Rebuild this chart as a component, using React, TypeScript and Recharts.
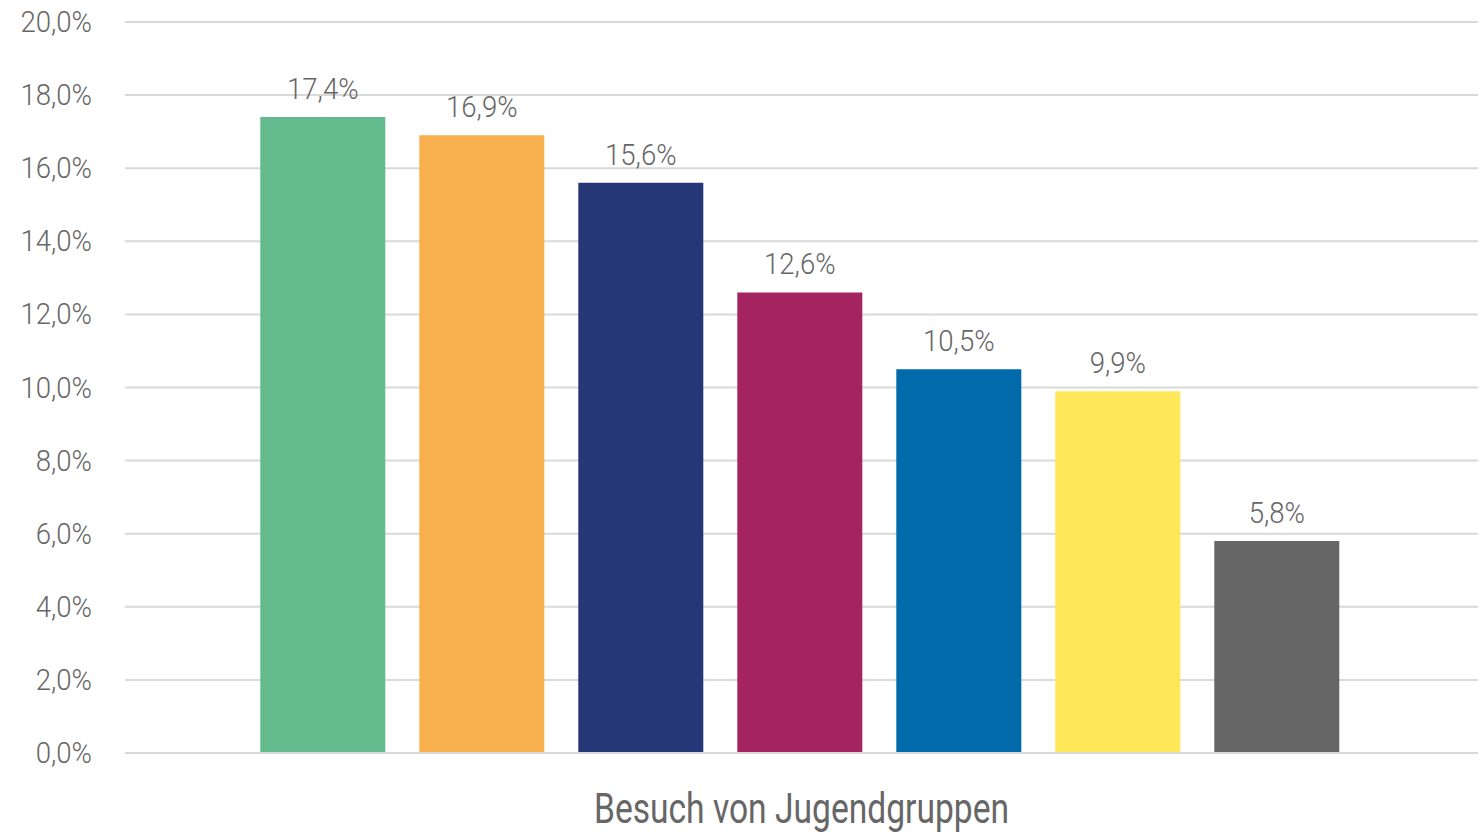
import { BarChart, Bar, XAxis, YAxis, CartesianGrid, LabelList } from 'recharts'

const categories = ['Besuch von Jugendgruppen']
const seriesKeys = ['s1', 's2', 's3', 's4', 's5', 's6', 's7']
const seriesValues = [17.4, 16.9, 15.6, 12.6, 10.5, 9.9, 5.8]
const seriesColors = ['#62BA8D', '#F8AF4E', '#263777', '#A32461', '#006AAB', '#FEE758', '#666666']
const yTicks = [0, 2, 4, 6, 8, 10, 12, 14, 16, 18, 20]

const font = "Roboto, 'Noto Sans', sans-serif"
const textColor = '#666666'

const data = categories.map(name => {
  const row: Record<string, string | number> = { name }
  seriesKeys.forEach((k, i) => { row[k] = seriesValues[i] })
  return row
})

const pct = (v: number) => v.toFixed(1).replace('.', ',') + '%'

// narrow text: the original uses a condensed face, so squeeze Roboto horizontally
function NarrowText({ x, y, anchor, size, sx, weight = 300, children }: any) {
  return (
    <g transform={`translate(${x},${y}) scale(${sx},1)`}>
      <text x={0} y={0} textAnchor={anchor} fill={textColor} fontSize={size} fontFamily={font} fontWeight={weight}>
        {children}
      </text>
    </g>
  )
}

const YTick = ({ x, y, payload }: any) => (
  <NarrowText x={x} y={y + 10} anchor="end" size={30} sx={0.92}>{pct(payload.value)}</NarrowText>
)

const XTick = ({ x, y, payload }: any) => (
  <NarrowText x={x} y={y + 70} anchor="middle" size={42} sx={0.8} weight={400}>{payload.value}</NarrowText>
)

const BarLabel = ({ x, y, width, value }: any) => (
  <NarrowText x={Number(x) + Number(width) / 2} y={Number(y) - 18} anchor="middle" size={30} sx={0.92}>
    {pct(Number(value))}
  </NarrowText>
)

export default function App() {
  return (
    <div style={{ position: 'absolute', top: 0, left: 0, width: 1479, height: 834 }}>
      <BarChart
        width={1479}
        height={834}
        data={data}
        margin={{ top: 22, right: 1, bottom: 0, left: 0 }}
        barCategoryGap="10%"
        barGap={34}
      >
        <CartesianGrid vertical={false} stroke="#d9d9d9" strokeWidth={2} />
        <XAxis
          dataKey="name"
          height={81}
          axisLine={{ stroke: '#d9d9d9', strokeWidth: 2 }}
          tickLine={false}
          tickSize={0}
          tickMargin={0}
          tick={<XTick />}
        />
        <YAxis
          width={125}
          domain={[0, 20]}
          ticks={yTicks}
          axisLine={false}
          tickLine={false}
          tickSize={0}
          tickMargin={33}
          tick={<YTick />}
        />
        {seriesKeys.map((k, i) => (
          <Bar key={k} dataKey={k} fill={seriesColors[i]} isAnimationActive={false}>
            <LabelList dataKey={k} content={<BarLabel />} />
          </Bar>
        ))}
      </BarChart>
    </div>
  )
}
